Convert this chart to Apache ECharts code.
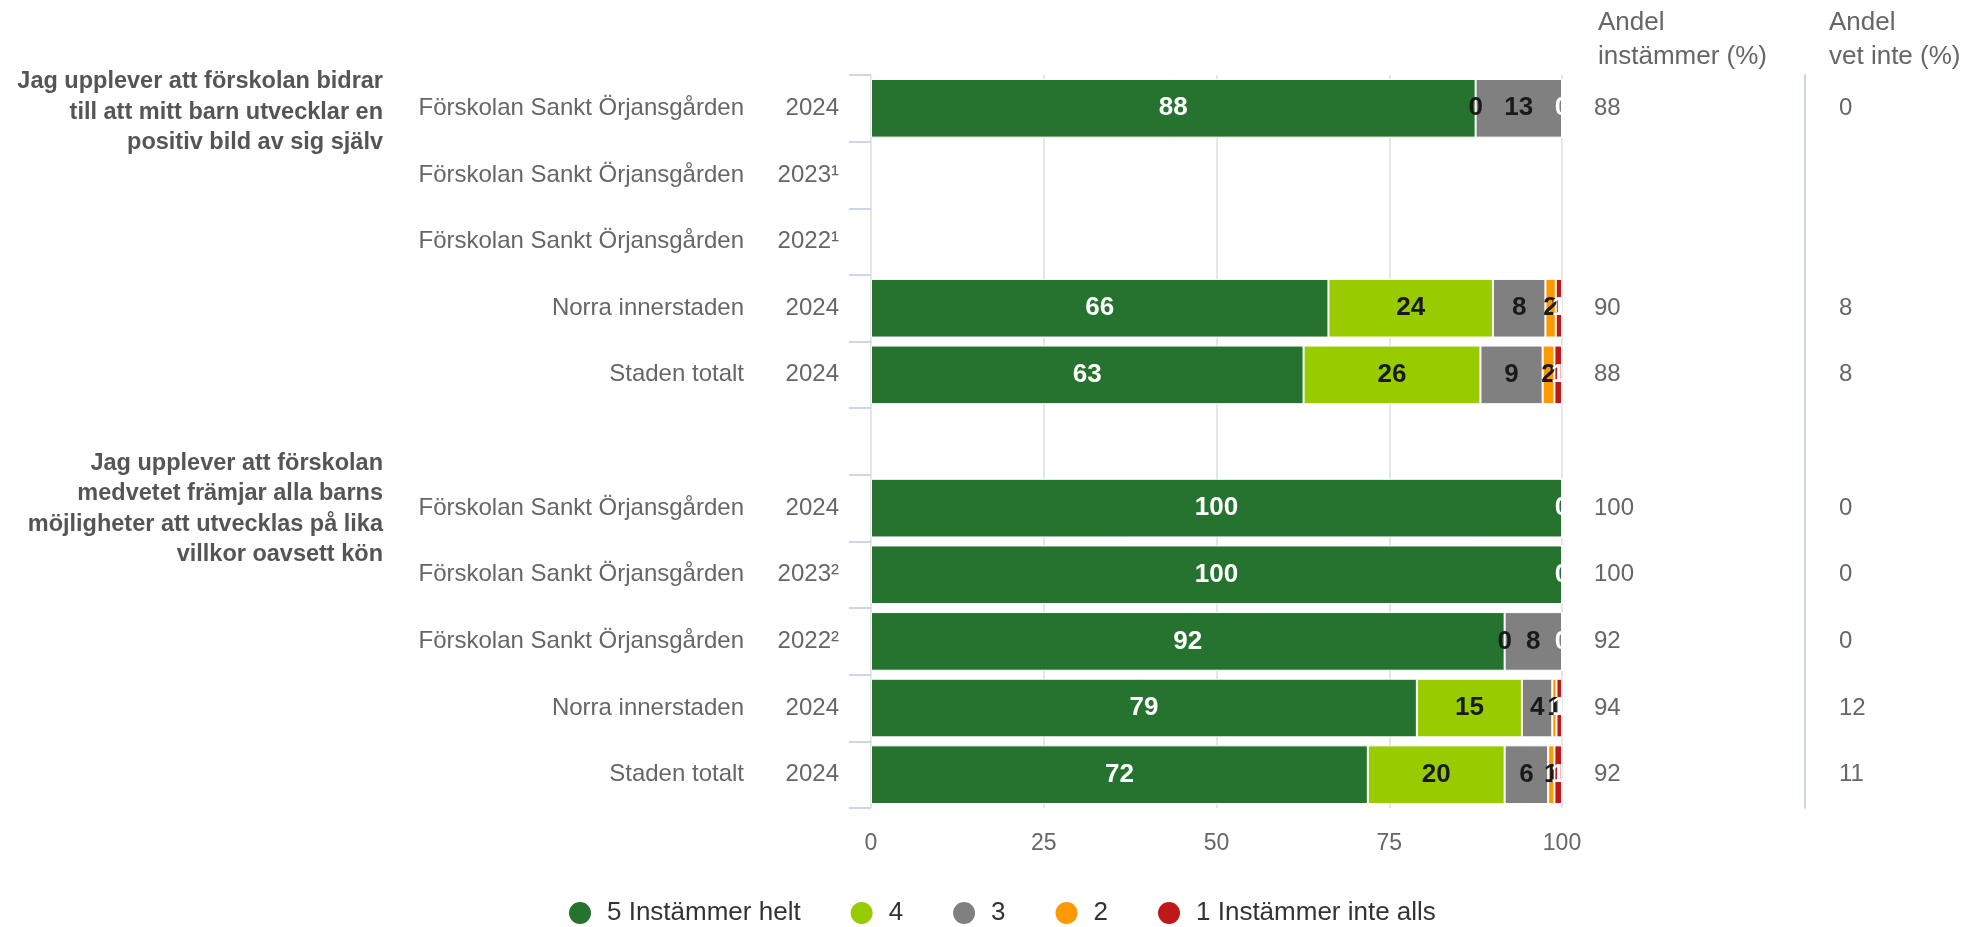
<!DOCTYPE html>
<html>
<head>
<meta charset="utf-8">
<script src="https://cdn.jsdelivr.net/npm/echarts@6/dist/echarts.min.js"></script>
<style>
  html, body { margin: 0; padding: 0; background: #fff; }
  #chart { width: 1970px; height: 927px; }
</style>
</head>
<body>
<div id="chart"></div>
<script>
// rader (tom rad mellan frågorna)
var rowUnits = ['Förskolan Sankt Örjansgården', 'Förskolan Sankt Örjansgården', 'Förskolan Sankt Örjansgården', 'Norra innerstaden', 'Staden totalt', '',
                'Förskolan Sankt Örjansgården', 'Förskolan Sankt Örjansgården', 'Förskolan Sankt Örjansgården', 'Norra innerstaden', 'Staden totalt'];
var rowYears = ['2024', '2023¹', '2022¹', '2024', '2024', '', '2024', '2023²', '2022²', '2024', '2024'];

var questions = [
  'Jag upplever att förskolan bidrar\ntill att mitt barn utvecklar en\npositiv bild av sig själv',
  'Jag upplever att förskolan\nmedvetet främjar alla barns\nmöjligheter att utvecklas på lika\nvillkor oavsett kön'
];
var questionRows = [0, 6];

var levels = ['5 Instämmer helt', '4', '3', '2', '1 Instämmer inte alls'];
var levelColors = ['#267330', '#99cc00', '#808080', '#ff9900', '#bf1818'];
var labelColors = ['#ffffff', '#1a1a1a', '#1a1a1a', '#1a1a1a', '#ffffff'];

// andelar per svarsalternativ (%)
var s5 = [87.5, null, null, 66.2, 62.6, null, 100, 100, 91.7, 79.0, 71.9];
var s4 = [0, null, null, 23.8, 25.6, null, 0, 0, 0, 15.2, 19.8];
var s3 = [12.5, null, null, 7.6, 9.0, null, 0, 0, 8.3, 4.4, 6.3];
var s2 = [0, null, null, 1.5, 1.7, null, 0, 0, 0, 0.6, 0.9];
var s1 = [0, null, null, 0.9, 1.1, null, 0, 0, 0, 0.8, 1.1];
var levelData = [s5, s4, s3, s2, s1];

var andelInstammer = ['88', '', '', '90', '88', '', '100', '100', '92', '94', '92'];
var andelVetInte = ['0', '', '', '8', '8', '', '0', '0', '0', '12', '11'];

var xTicks = [0, 25, 50, 75, 100];

var FONT = '"Liberation Sans", Arial, sans-serif';
var rowKeys = rowUnits.map(function (u, i) { return u + ' ' + rowYears[i] + ' #' + i; });

// nollor visas inte om resten av raden också är noll (utom sista)
function restIsZero(k, idx) {
  for (var j = k + 1; j < levelData.length; j++) {
    if (levelData[j][idx] !== 0) return false;
  }
  return true;
}

var series = levels.map(function (name, k) {
  return {
    name: name,
    type: 'bar',
    stack: 'total',
    barCategoryGap: '12%',
    data: levelData[k],
    itemStyle: { color: levelColors[k], borderColor: '#ffffff', borderWidth: 1 },
    label: {
      show: true,
      position: 'inside',
      color: labelColors[k],
      fontFamily: FONT,
      fontSize: 26,
      fontWeight: 'bold',
      formatter: function (p) {
        if (p.value == null) return '';
        if (p.value === 0 && k < levelData.length - 1 && restIsZero(k, p.dataIndex)) return '';
        return Math.round(p.value);
      }
    }
  };
});

var chart = echarts.init(document.getElementById('chart'));
chart.setOption({
  animation: false,
  textStyle: { fontFamily: FONT },
  grid: { left: 871, right: 408, top: 75, bottom: 119, containLabel: false },
  legend: {
    data: levels,
    left: 562,
    top: 895,
    icon: 'circle',
    itemWidth: 24,
    itemHeight: 24,
    itemGap: 48,
    textStyle: { fontSize: 26, color: '#333', fontFamily: FONT, padding: [0, 0, 0, 10] }
  },
  xAxis: {
    type: 'value',
    min: xTicks[0],
    max: xTicks[xTicks.length - 1],
    interval: 25,
    axisLine: { show: false },
    axisTick: { show: false },
    splitLine: { lineStyle: { color: '#e6e6e6', width: 2 } },
    axisLabel: { fontSize: 23, color: '#666', margin: 24, fontFamily: FONT }
  },
  yAxis: [
    {
      type: 'category',
      inverse: true,
      data: rowKeys,
      axisLine: { show: false },
      axisTick: { show: true, length: 22, lineStyle: { color: '#ccd6eb', width: 2 } },
      axisLabel: {
        interval: 0,
        margin: 32,
        formatter: function (v, i) {
          if (!rowUnits[i]) return '';
          return '{a|' + rowUnits[i] + '}{b|' + rowYears[i] + '}';
        },
        rich: {
          a: { fontSize: 24, color: '#666', fontFamily: FONT },
          b: { fontSize: 24, color: '#666', fontFamily: FONT, width: 95, align: 'right' }
        }
      }
    },
    {
      type: 'category',
      inverse: true,
      position: 'right',
      data: rowKeys,
      axisLine: { show: false },
      axisTick: { show: false },
      axisLabel: {
        interval: 0,
        margin: 32,
        fontSize: 24,
        color: '#666',
        fontFamily: FONT,
        formatter: function (v, i) { return andelInstammer[i]; }
      }
    },
    {
      type: 'category',
      inverse: true,
      position: 'right',
      offset: 243,
      data: rowKeys,
      axisLine: { show: true, lineStyle: { color: '#ccd6eb', width: 2 } },
      axisTick: { show: false },
      axisLabel: {
        interval: 0,
        margin: 34,
        fontSize: 24,
        color: '#666',
        fontFamily: FONT,
        formatter: function (v, i) { return andelVetInte[i]; }
      }
    }
  ],
  series: series
});

// frågetexter till vänster + kolumnrubriker
var graphics = questions.map(function (q, i) {
  var y = chart.convertToPixel({ yAxisIndex: 0 }, questionRows[i]);
  var lines = q.split('\n').length;
  return {
    type: 'text',
    x: 383,
    y: y + (i === 0 ? 4 : 1) - lines * 30.5 / 2,
    style: {
      text: q,
      align: 'right',
      verticalAlign: 'top',
      font: 'bold 23.5px ' + FONT,
      lineHeight: 30.5,
      fill: '#555'
    }
  };
});
graphics.push({
  type: 'text', x: 1598, y: 6,
  style: { text: 'Andel\ninstämmer (%)', font: '26px ' + FONT, lineHeight: 34, fill: '#666', verticalAlign: 'top' }
});
graphics.push({
  type: 'text', x: 1829, y: 6,
  style: { text: 'Andel\nvet inte (%)', font: '26px ' + FONT, lineHeight: 34, fill: '#666', verticalAlign: 'top' }
});
chart.setOption({ graphic: graphics });

window.addEventListener('resize', function () { chart.resize(); });
</script>
</body>
</html>
